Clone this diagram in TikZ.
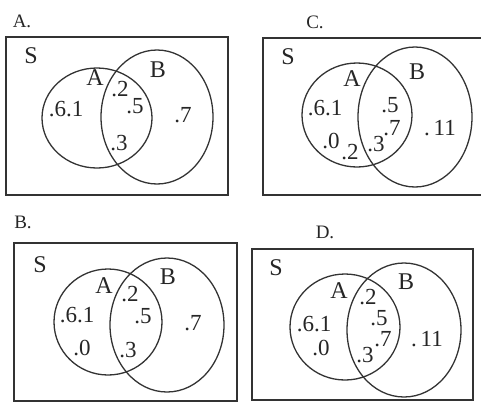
\documentclass[tikz,border=0pt]{standalone}
\usepackage{fontspec}
\setmainfont{Liberation Serif}
\begin{document}
\begin{tikzpicture}[x=1pt,y=-1pt,
  line/.style={draw=black!80, line width=1.3pt},
  val/.style={inner sep=0pt, font=\fontsize{23}{23}\selectfont, text=black!85},
  setlbl/.style={inner sep=0pt, font=\fontsize{24}{24}\selectfont, text=black!85},
  panel/.style={inner sep=0pt, font=\fontsize{19}{19}\selectfont, text=black!85}]
\useasboundingbox (0,0) rectangle (481,405);
% ---------- Panel A ----------
\node[panel] (tA) at (22,21) {A.};
\draw[line] (6,37) rectangle (228,195);
\draw[line] (97,118) ellipse [x radius=55, y radius=50];
\draw[line] (157,117) ellipse [x radius=56, y radius=67];
\node[setlbl] (aS) at (31,56) {S};
\node[setlbl] (aA) at (95,78) {A};
\node[setlbl] (aB) at (158,70) {B};
\node[val] (a61) at (66,109) {.6.1};
\node[val] (a2) at (120,89) {.2};
\node[val] (a5) at (135,106) {.5};
\node[val] (a7) at (183,115) {.7};
\node[val] (a3) at (119,143) {.3};
% ---------- Panel C ----------
\node[panel] (tC) at (315,22) {C.};
\draw[line] (263,38) rectangle (495,195);
\draw[line] (357,115) ellipse [x radius=55, y radius=52];
\draw[line] (415,117) ellipse [x radius=57, y radius=70];
\node[setlbl] (cS) at (288,57) {S};
\node[setlbl] (cA) at (352,79) {A};
\node[setlbl] (cB) at (417,72) {B};
\node[val] (c61) at (325,108) {.6.1};
\node[val] (c0) at (331,141) {.0};
\node[val] (c2) at (350,152) {.2};
\node[val] (c3) at (376,144) {.3};
\node[val] (c5) at (390,105) {.5};
\node[val] (c7) at (392,128) {.7};
\node[val] (c11) at (440,128) {.\,11};
% ---------- Panel B ----------
\node[panel] (tB) at (23,222) {B.};
\draw[line] (14,243) rectangle (237,401);
\draw[line] (108,322) ellipse [x radius=54, y radius=53];
\draw[line] (167,325) ellipse [x radius=57, y radius=67];
\node[setlbl] (bS) at (40,265) {S};
\node[setlbl] (bA) at (104,286) {A};
\node[setlbl] (bB) at (168,277) {B};
\node[val] (b61) at (77,315) {.6.1};
\node[val] (b0) at (82,348) {.0};
\node[val] (b2) at (130,294) {.2};
\node[val] (b5) at (143,316) {.5};
\node[val] (b7) at (193,323) {.7};
\node[val] (b3) at (128,350) {.3};
% ---------- Panel D ----------
\node[panel] (tD) at (325,232) {D.};
\draw[line] (252,249) rectangle (473,400);
\draw[line] (345,327) ellipse [x radius=55, y radius=53];
\draw[line] (404,330) ellipse [x radius=57, y radius=67];
\node[setlbl] (dS) at (276,268) {S};
\node[setlbl] (dA) at (339,291) {A};
\node[setlbl] (dB) at (406,282) {B};
\node[val] (d61) at (314,324) {.6.1};
\node[val] (d0) at (321,348) {.0};
\node[val] (d2) at (368,297) {.2};
\node[val] (d5) at (379,318) {.5};
\node[val] (d7) at (383,339) {.7};
\node[val] (d3) at (365,355) {.3};
\node[val] (d11) at (427,339) {.\,11};
\end{tikzpicture}
\end{document}
